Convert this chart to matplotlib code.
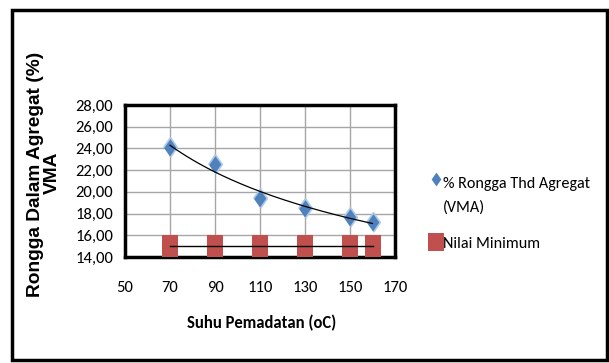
import numpy as np
import matplotlib
matplotlib.use("Agg")
import matplotlib.pyplot as plt
from matplotlib.patches import Rectangle
from matplotlib.lines import Line2D

# Data
suhu = [70, 90, 110, 130, 150, 160]
vma = [24.1, 22.6, 19.4, 18.5, 17.7, 17.2]
nilai_min = [15, 15, 15, 15, 15, 15]
x_ticks = [50, 70, 90, 110, 130, 150, 170]
y_ticks = [14, 16, 18, 20, 22, 24, 26, 28]
label_vma = ["% Rongga Thd Agregat", "(VMA)"]
label_min = "Nilai Minimum"

W, H = 609, 363
body = ["Carlito", "DejaVu Sans"]
heavy = ["Liberation Sans", "DejaVu Sans"]
blue, red = "#4F81BD", "#C0504D"


def fx(px):
    return px / W


def fy(py):
    return 1 - py / H


fig = plt.figure(figsize=(W / 100, H / 100), dpi=100)
fig.patch.set_facecolor("white")

# outer frame
fig.add_artist(Rectangle((0.02, 0.008), 0.977, 0.965, transform=fig.transFigure,
                         fill=False, edgecolor="black", linewidth=2.5))

ax = fig.add_axes([fx(125), fy(257), fx(395) - fx(125), fy(105) - fy(257)])

# power trendline through the measured points
coef = np.polyfit(np.log(suhu), np.log(vma), 1)
xs = np.linspace(min(suhu), max(suhu), 200)
ys = np.exp(coef[1]) * xs ** coef[0]

diamond = [(0, -0.5), (0.35, 0), (0, 0.5), (-0.35, 0)]
tall_rect = [(-0.36, -0.5), (0.36, -0.5), (0.36, 0.5), (-0.36, 0.5)]
square = [(-0.46, -0.5), (0.46, -0.5), (0.46, 0.5), (-0.46, 0.5)]

ax.plot(suhu, nilai_min, linestyle="none", marker=tall_rect, markersize=16.5,
        color=red, markeredgewidth=0, zorder=3)
ax.plot(suhu, vma, linestyle="none", marker=diamond, markersize=14,
        color=blue, markeredgecolor="#AFC8E8", markeredgewidth=1.2, zorder=4)
ax.plot(xs, ys, color="black", linewidth=0.9, zorder=5)
ax.plot([min(suhu), max(suhu)], nilai_min[:2], color="black", linewidth=1.0, zorder=5)

ax.set_xlim(50, 170)
ax.set_ylim(14, 28)
ax.set_xticks(x_ticks)
ax.set_yticks(y_ticks)
ax.set_xticklabels([str(v) for v in x_ticks], family=body, fontsize=12)
ax.set_yticklabels([f"{v:.2f}".replace(".", ",") for v in y_ticks], family=body, fontsize=12)
ax.tick_params(axis="x", length=0, pad=17)
ax.tick_params(axis="y", length=0, pad=8.5)
ax.grid(True, color="#A6A6A6", linewidth=1.0)
ax.set_axisbelow(True)
for sp in ax.spines.values():
    sp.set_linewidth(2.5)
    sp.set_color("black")

# axis titles
fig.text(fx(262), fy(328), "Suhu Pemadatan (oC)", ha="center", va="baseline",
         family=body, fontsize=12, fontweight="bold")
fig.text(fx(40), fy(174), "Rongga Dalam Agregat (%)", ha="center", va="baseline",
         rotation=90, rotation_mode="anchor", fontsize=13.8, fontweight="bold", family=heavy)
fig.text(fx(57), fy(173), "VMA", ha="center", va="baseline",
         rotation=90, rotation_mode="anchor", fontsize=13.8, fontweight="bold", family=heavy)

# legend
fig.add_artist(Line2D([fx(435.5)], [fy(179)], transform=fig.transFigure, marker=diamond,
                      markersize=10, color=blue, markeredgewidth=0, linestyle="none"))
fig.text(fx(443), fy(188), label_vma[0], ha="left", va="baseline", family=body, fontsize=11.6)
fig.text(fx(443), fy(211.5), label_vma[1], ha="left", va="baseline", family=body, fontsize=11.6)
fig.add_artist(Line2D([fx(436)], [fy(241.5)], transform=fig.transFigure, marker=square,
                      markersize=13, color=red, markeredgewidth=0, linestyle="none"))
fig.text(fx(443), fy(248), label_min, ha="left", va="baseline", family=body, fontsize=11.6)

fig.savefig("out.png", dpi=100)
